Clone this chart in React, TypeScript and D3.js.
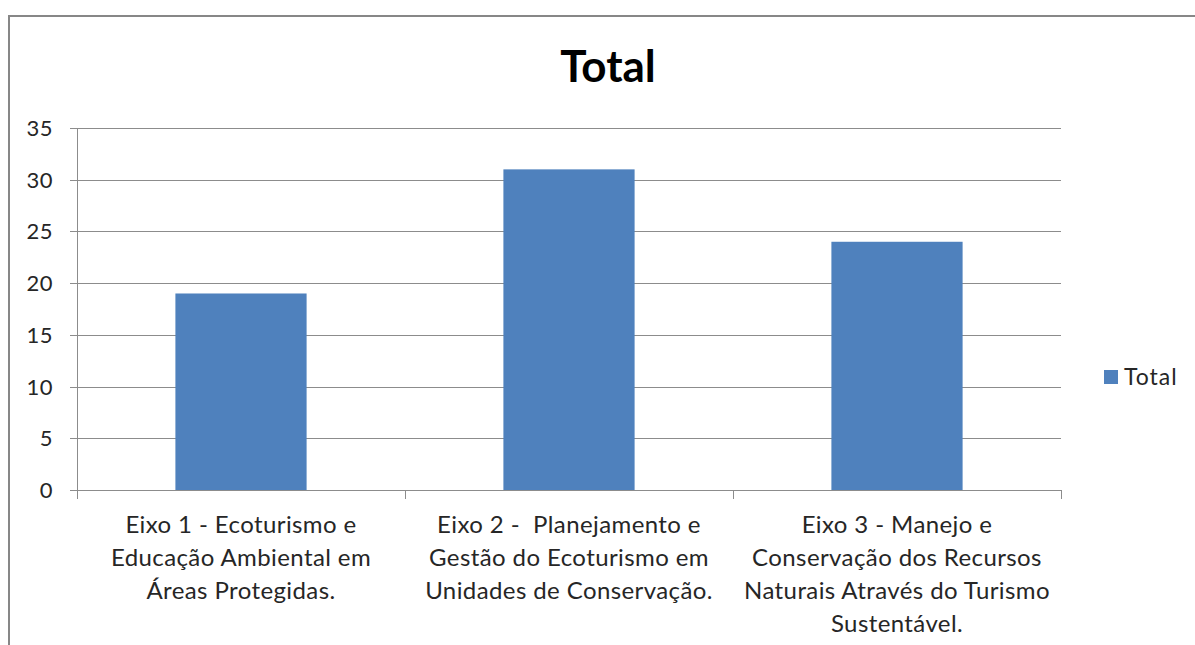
import React from "react";
import * as d3 from "d3";

const categories: string[][] = [
  ["Eixo 1 - Ecoturismo e", "Educação Ambiental em", "Áreas Protegidas."],
  ["Eixo 2 -  Planejamento e", "Gestão do Ecoturismo em", "Unidades de Conservação."],
  ["Eixo 3 - Manejo e", "Conservação dos Recursos", "Naturais Através do Turismo", "Sustentável."],
];
const values: number[] = [19, 31, 24];
const yTicks: number[] = [0, 5, 10, 15, 20, 25, 30, 35];
const seriesName = "Total";
const title = "Total";

const W = 1195;
const H = 645;
const left = 77;
const right = 1061;
const top = 128;
const bottom = 490;
const FONT = "Lato, 'Open Sans', sans-serif";
const BAR = "#4F81BD";
const GRID = "#8C8C8C";

export default function App() {
  const idx = categories.map((_, i) => String(i));
  const x = d3.scaleBand<string>().domain(idx).range([left, right]).paddingInner(0.6).paddingOuter(0.3);
  const y = d3.scaleLinear().domain([0, 35]).range([bottom, top]);
  const step = x.step();
  const boundaries = d3.range(categories.length + 1).map((i) => left + i * step);

  return (
    <svg width={W} height={H} style={{ position: "absolute", left: 0, top: 0, background: "#fff" }} fontFamily={FONT}>
      <rect x={0} y={0} width={W} height={H} fill="#fff" />
      <rect x={9} y={16} width={W + 20} height={H + 20} fill="none" stroke="#878787" strokeWidth={2} />
      <text x={608} y={82} textAnchor="middle" fontSize={44} fontWeight="bold" fill="#000">{title}</text>
      {yTicks.map((t) => (
        <g key={t}>
          <line x1={70} x2={right} y1={Math.round(y(t)) + 0.5} y2={Math.round(y(t)) + 0.5} stroke={GRID} strokeWidth={1} />
          <text x={53} y={y(t) + 8} textAnchor="end" fontSize={22} letterSpacing={0.5} fill="#262626">{t}</text>
        </g>
      ))}
      <line x1={left + 0.5} x2={left + 0.5} y1={top} y2={bottom} stroke={GRID} strokeWidth={1} />
      {boundaries.map((b, i) => (
        <line key={i} x1={Math.round(b) + 0.5} x2={Math.round(b) + 0.5} y1={bottom} y2={bottom + 9} stroke={GRID} strokeWidth={1} />
      ))}
      {values.map((v, i) => (
        <rect key={i} x={x(String(i))} y={y(v)} width={x.bandwidth()} height={bottom - y(v)} fill={BAR} />
      ))}
      {categories.map((lines, i) => (
        <text key={i} textAnchor="middle" fontSize={24} letterSpacing={0.4} fill="#262626" style={{ whiteSpace: "pre" }}>
          {lines.map((ln, j) => (
            <tspan key={j} x={(x(String(i)) as number) + x.bandwidth() / 2} y={533 + j * 33}>{ln}</tspan>
          ))}
        </text>
      ))}
      <rect x={1104} y={370} width={14} height={14} fill={BAR} />
      <text x={1124} y={385} fontSize={23} letterSpacing={1} fill="#262626">{seriesName}</text>
    </svg>
  );
}
